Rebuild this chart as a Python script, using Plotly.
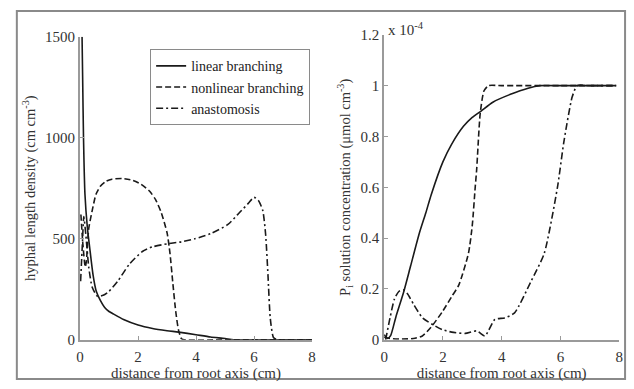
import plotly.graph_objects as go
from plotly.subplots import make_subplots

# ---- Left panel: hyphal length density (cm cm^-3) ----
lin_x = [0.07, 0.09, 0.12, 0.17, 0.25, 0.33, 0.45, 0.56, 0.7, 0.85, 1.0, 1.12, 1.5, 2.0, 2.5, 3.0, 3.4, 4.0, 4.5, 5.0, 5.3, 6.0, 7.0, 8.0]
lin_y = [1500, 1300, 1000, 720, 560, 460, 320, 240, 195, 160, 140, 130, 100, 73, 56, 45, 38, 25, 14, 6, 0, 0, 0, 0]

non_x = [0.03, 0.1, 0.18, 0.22, 0.3, 0.45, 0.55, 0.7, 0.9, 1.1, 1.46, 1.8, 2.1, 2.4, 2.6, 2.8, 3.0, 3.1, 3.2, 3.3, 3.4, 3.5, 3.6, 5.0, 8.0]
non_y = [620, 470, 360, 390, 550, 660, 720, 760, 785, 795, 798, 790, 770, 735, 695, 630, 530, 430, 280, 140, 45, 5, 0, 0, 0]

ana_x = [0.02, 0.08, 0.13, 0.2, 0.3, 0.42, 0.6, 0.8, 1.0, 1.3, 1.7, 2.15, 2.5, 3.05, 3.5, 3.96, 4.5, 5.1, 5.5, 5.8, 6.0, 6.15, 6.3, 6.4, 6.48, 6.56, 6.67, 6.8, 8.0]
ana_y = [290, 470, 610, 520, 360, 260, 215, 220, 240, 290, 374, 437, 460, 476, 485, 500, 525, 571, 630, 675, 705, 690, 640, 520, 320, 106, 11, 0, 0]

# ---- Right panel: Pi solution concentration (x 1e-4 umol cm^-3) ----
rlin_x = [0.0, 0.12, 0.22, 0.4, 0.67, 0.9, 1.2, 1.42, 1.6, 2.0, 2.3, 2.7, 3.0, 3.3, 3.7, 4.3, 4.9, 5.3, 6.0, 7.0, 7.9]
rlin_y = [0.02, 0.005, 0.016, 0.09, 0.19, 0.29, 0.42, 0.5, 0.57, 0.7, 0.77, 0.84, 0.875, 0.9, 0.935, 0.966, 0.99, 1.0, 1.0, 1.0, 1.0]

rnon_x = [0.0, 0.2, 0.6, 1.0, 1.3, 1.6, 1.98, 2.3, 2.54, 2.87, 3.0, 3.1, 3.15, 3.27, 3.4, 3.55, 4.0, 6.0, 7.9]
rnon_y = [0.01, 0.005, 0.003, 0.005, 0.015, 0.05, 0.11, 0.17, 0.215, 0.34, 0.45, 0.6, 0.67, 0.89, 0.98, 1.0, 1.0, 1.0, 1.0]

rana_x = [0.05, 0.2, 0.35, 0.5, 0.65, 0.8, 1.0, 1.31, 1.74, 1.98, 2.3, 2.76, 3.15, 3.43, 3.77, 4.1, 4.44, 5.0, 5.45, 5.9, 6.12, 6.4, 6.57, 7.0, 7.9]
rana_y = [0.0, 0.086, 0.16, 0.19, 0.197, 0.18, 0.14, 0.086, 0.054, 0.04, 0.03, 0.025, 0.035, 0.015, 0.08, 0.086, 0.106, 0.23, 0.34, 0.6, 0.78, 0.955, 1.0, 1.0, 1.0]

names = ["linear branching", "nonlinear branching", "anastomosis"]
dashes = ["solid", "6px,3px", "7px,3px,2px,3px"]
lc = "#1a1a1a"
serif = "Liberation Serif"
tcol = "#333333"

fig = make_subplots(rows=1, cols=2)

for (x, y), nm, d in zip([(lin_x, lin_y), (non_x, non_y), (ana_x, ana_y)], names, dashes):
    fig.add_trace(go.Scatter(x=x, y=y, mode="lines", name=nm,
                             line=dict(color=lc, width=1.6, dash=d, shape="spline", smoothing=0.6)),
                  row=1, col=1)
for (x, y), nm, d in zip([(rlin_x, rlin_y), (rnon_x, rnon_y), (rana_x, rana_y)], names, dashes):
    fig.add_trace(go.Scatter(x=x, y=y, mode="lines", name=nm, showlegend=False,
                             line=dict(color=lc, width=1.6, dash=d, shape="spline", smoothing=0.6)),
                  row=1, col=2)

W, H = 634, 389
ybot = 1 - 346 / H
axcol = "#9a9a9a"
common = dict(showgrid=False, zeroline=False, showline=True, linecolor=axcol, linewidth=2,
              ticks="inside", ticklen=4, tickcolor=axcol, tickwidth=1,
              tickfont=dict(family=serif, size=15, color=tcol))

fig.update_xaxes(range=[0, 8], tickvals=[0, 2, 4, 6, 8], ticklabelstandoff=2, **common,
                 title=dict(text="distance from root axis (cm)", standoff=0,
                            font=dict(family=serif, size=15, color=tcol)))
fig.update_xaxes(domain=[77 / W, 312 / W], row=1, col=1)
fig.update_xaxes(domain=[385 / W, 623 / W], row=1, col=2)

fig.update_yaxes(range=[0, 1500], tickvals=[0, 500, 1000, 1500], domain=[ybot, 1 - 30 / H], **common,
                 title=dict(text="hyphal length density (cm cm<sup>-3</sup>)", standoff=6,
                            font=dict(family=serif, size=14.5, color=tcol)), row=1, col=1)
fig.update_yaxes(range=[0, 1.2], tickvals=[0, 0.2, 0.4, 0.6, 0.8, 1.0, 1.2],
                 ticktext=["0", "0.2", "0.4", "0.6", "0.8", "1", "1.2"], domain=[ybot, 1 - 28 / H], **common,
                 title=dict(text="P<sub>i</sub> solution concentration (\u03bcmol cm<sup>-3</sup>)", standoff=6,
                            font=dict(family=serif, size=14.5, color=tcol)), row=1, col=2)

fig.add_annotation(xref="paper", yref="paper", x=387 / W, y=1 - 22 / H, xanchor="left", yanchor="middle",
                   text="x 10<sup>-4</sup>", showarrow=False, font=dict(family=serif, size=15, color=tcol))

# outer frame
fig.add_shape(type="rect", xref="paper", yref="paper", x0=13 / W, x1=629 / W, y0=1 - 387 / H, y1=1 - 3 / H,
              line=dict(color="#8a8a8a", width=2))

fig.update_layout(
    width=W, height=H, margin=dict(l=0, r=0, t=0, b=0),
    paper_bgcolor="white", plot_bgcolor="white",
    legend=dict(x=148 / W, y=1 - 43 / H, xanchor="left", yanchor="top",
                bordercolor="#8a8a8a", borderwidth=1, bgcolor="white",
                font=dict(family=serif, size=14, color="#222"), tracegroupgap=0,
                itemwidth=30),
    showlegend=True,
)

fig.write_html("out.html")
